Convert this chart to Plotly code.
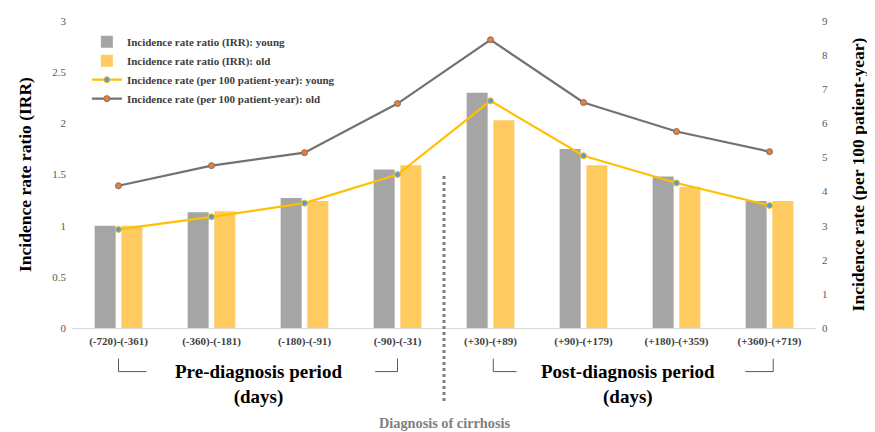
import plotly.graph_objects as go

categories = ["(-720)-(-361)", "(-360)-(-181)", "(-180)-(-91)", "(-90)-(-31)",
              "(+30)-(+89)", "(+90)-(+179)", "(+180)-(+359)", "(+360)-(+719)"]
irr_young = [1.00, 1.13, 1.27, 1.55, 2.30, 1.75, 1.48, 1.24]
irr_old = [1.00, 1.14, 1.24, 1.59, 2.03, 1.59, 1.38, 1.24]
rate_young = [2.89, 3.26, 3.66, 4.50, 6.66, 5.05, 4.25, 3.59]
rate_old = [4.17, 4.76, 5.14, 6.58, 8.45, 6.61, 5.76, 5.17]

SERIF = "Liberation Serif, Times New Roman, serif"

fig = go.Figure()
fig.add_trace(go.Bar(x=categories, y=irr_young, name="Incidence rate ratio (IRR): young",
                     marker=dict(color="#A5A5A5", line=dict(width=0))))
fig.add_trace(go.Bar(x=categories, y=irr_old, name="Incidence rate ratio (IRR): old",
                     marker=dict(color="#FFCA5F", line=dict(width=0))))
fig.add_trace(go.Scatter(x=categories, y=rate_young, yaxis="y2", mode="lines+markers",
                         name="Incidence rate (per 100 patient-year): young",
                         line=dict(color="#FFC000", width=2.2),
                         marker=dict(color="#5B9BD5", size=6, line=dict(color="#FFC000", width=1))))
fig.add_trace(go.Scatter(x=categories, y=rate_old, yaxis="y2", mode="lines+markers",
                         name="Incidence rate (per 100 patient-year): old",
                         line=dict(color="#767171", width=2.2),
                         marker=dict(color="#ED7D31", size=6, line=dict(color="#767171", width=1))))

shapes = []
# diagnosis dotted line
shapes.append(dict(type="line", xref="x", yref="paper", x0=3.5, x1=3.5, y0=0.495, y1=-0.245,
                   line=dict(color="#7F7F7F", width=3, dash="dot")))
# brackets
yb0, yb1 = -0.100, -0.142
def bracket(xv, xh):
    shapes.append(dict(type="path", xref="x", yref="paper",
                       path=f"M {xv},{yb0} L {xv},{yb1} L {xh},{yb1}",
                       line=dict(color="#595959", width=1)))
bracket(0, 0.3)
bracket(3, 2.76)
bracket(4.03, 4.28)
bracket(7.04, 6.74)

annotations = [
    dict(text="<b>Pre-diagnosis period<br>(days)</b>", x=1.5, y=-0.183, xref="x", yref="paper",
         xanchor="center", yanchor="middle",
         showarrow=False, font=dict(family=SERIF, size=19, color="#000000")),
    dict(text="<b>Post-diagnosis period<br>(days)</b>", x=5.48, y=-0.183, xref="x", yref="paper",
         xanchor="center", yanchor="middle",
         showarrow=False, font=dict(family=SERIF, size=19, color="#000000")),
    dict(text="<b>Diagnosis of cirrhosis</b>", x=3.5, y=-0.311, xref="x", yref="paper",
         xanchor="center", yanchor="middle",
         showarrow=False, font=dict(family=SERIF, size=14.3, color="#808080")),
]

fig.update_layout(
    width=875, height=432,
    margin=dict(l=64, r=67, t=7, b=112),
    paper_bgcolor="white", plot_bgcolor="white",
    barmode="group", bargap=0.426, bargroupgap=0.213,
    font=dict(family=SERIF),
    showlegend=True,
    legend=dict(x=0.02, y=0.98, xanchor="left", yanchor="top",
                bgcolor="rgba(0,0,0,0)",
                font=dict(family=SERIF, size=11, color="#404040", weight="bold"),
                tracegroupgap=0, itemwidth=30),
    xaxis=dict(showgrid=False, showline=True, linecolor="#D9D9D9", linewidth=1,
               ticks="", ticklabelstandoff=3,
               tickfont=dict(family=SERIF, size=11, color="#404040", weight="bold")),
    yaxis=dict(range=[0, 3], dtick=0.5, showgrid=False, zeroline=False, showline=False,
               tickfont=dict(family=SERIF, size=11, color="#595959"),
               ticklabelstandoff=5, tickformat="~g",
               title=dict(text="<b>Incidence rate ratio (IRR)</b>", standoff=16,
                          font=dict(family=SERIF, size=17.5, color="#000000"))),
    yaxis2=dict(range=[0, 9], dtick=1, overlaying="y", side="right", showgrid=False,
                zeroline=False, showline=False, ticklabelstandoff=5,
                tickfont=dict(family=SERIF, size=11, color="#595959"),
                title=dict(text="<b>Incidence rate (per 100 patient-year)</b>", standoff=24,
                           font=dict(family=SERIF, size=17.5, color="#000000"))),
    shapes=shapes,
    annotations=annotations,
)

fig.write_html("out.html")
